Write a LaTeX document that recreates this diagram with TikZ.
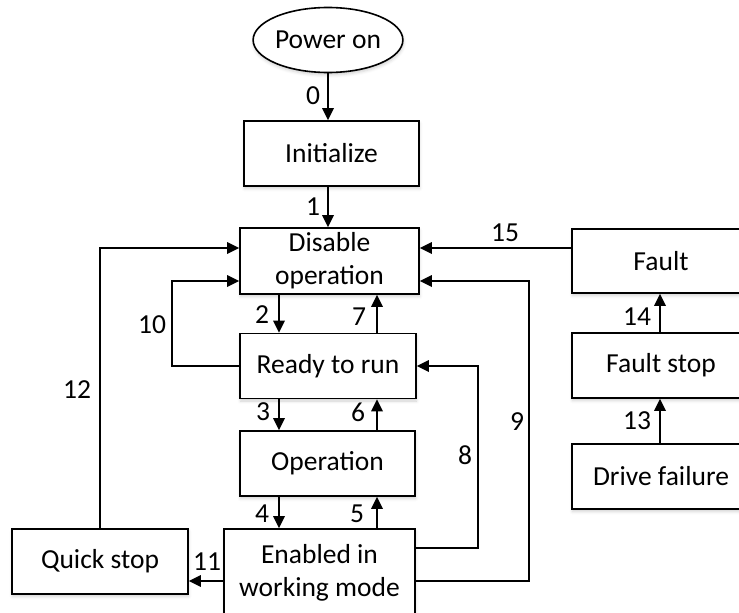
\documentclass[tikz,border=0pt]{standalone}
\usepackage{fontspec}
\setmainfont{Carlito}
\usetikzlibrary{arrows.meta,shadows.blur,shapes.geometric}
\newcommand\dfont{\fontsize{27.5}{33}\selectfont}
\begin{document}
\begin{tikzpicture}[x=1pt,y=-1pt,
  shad/.style={blur shadow={shadow xshift=0.5pt,shadow yshift=-2.5pt,shadow opacity=18,shadow blur radius=3pt}},
  box/.style={draw, line width=1.6pt, fill=white, rectangle, inner sep=0pt, align=center, font=\dfont, shad},
  oval/.style={draw, line width=1.6pt, fill=white, ellipse, inner sep=0pt, font=\dfont, shad},
  arr/.style={-{Triangle[length=12pt,width=11.5pt]}, line width=1.8pt},
  lbl/.style={font=\dfont, inner sep=0pt}]
\useasboundingbox (0,0) rectangle (739,613);
\clip (0,0) rectangle (739,613);

% states
\node[oval, minimum width=140pt, minimum height=65pt] (pwr) at (328,40) {Power on};
\node[box, minimum width=175pt, minimum height=65pt] (init) at (331.5,153.5) {Initialize};
\node[box, minimum width=179pt, minimum height=66pt] (dis) at (329.5,261) {Disable\\operation};
\node[box, minimum width=176pt, minimum height=65pt] (ready) at (328,366) {Ready to run};
\node[box, minimum width=175pt, minimum height=65pt] (op) at (327.5,463.5) {Operation};
\node[box, minimum width=191pt, minimum height=87pt] (en) at (319.5,572.5) {Enabled in\\working mode};
\node[box, minimum width=176pt, minimum height=65pt] (qs) at (100,561.5) {Quick stop};
\node[box, minimum width=178pt, minimum height=64pt] (fault) at (661,261) {Fault};
\node[box, minimum width=178pt, minimum height=65pt] (fstop) at (661,365.5) {Fault stop};
\node[box, minimum width=178pt, minimum height=65pt] (drive) at (661,476.5) {Drive failure};

% routing coordinates
\coordinate (xa) at (328,0);
\coordinate (xl) at (279,0);
\coordinate (xr) at (377,0);
\coordinate (xf) at (660,0);
\coordinate (yhi) at (0,248);
\coordinate (c10) at (172,281);
\coordinate (c8) at (478,366);
\coordinate (c9) at (529,281);
\coordinate (y8) at (0,548);
\coordinate (y9) at (0,581);

% transitions
\draw[arr] (pwr.south) -- (pwr.south |- init.north);
\draw[arr] (init.south -| xa) -- (dis.north -| xa);
\draw[arr] (dis.south -| xl) -- (ready.north -| xl);
\draw[arr] (ready.north -| xr) -- (dis.south -| xr);
\draw[arr] (ready.south -| xl) -- (op.north -| xl);
\draw[arr] (op.north -| xr) -- (ready.south -| xr);
\draw[arr] (op.south -| xl) -- (en.north -| xl);
\draw[arr] (en.north -| xr) -- (op.south -| xr);
\draw[arr] (ready.west) -| (c10) -- (dis.west |- c10);
\draw[arr] (qs.north) |- (dis.west |- yhi);
\draw[arr] (en.west |- y9) -- (qs.east |- y9);
\draw[arr] (en.east |- y8) -| (c8) -- (ready.east);
\draw[arr] (en.east |- y9) -| (c9) -- (dis.east |- c9);
\draw[arr] (fault.west |- yhi) -- (dis.east |- yhi);
\draw[arr] (fstop.north -| xf) -- (fault.south -| xf);
\draw[arr] (drive.north -| xf) -- (fstop.south -| xf);

% labels
\node[lbl] (l0) at (313,96) {0};
\node[lbl] (l1) at (313,207) {1};
\node[lbl] (l2) at (262,315) {2};
\node[lbl] (l7) at (359,317) {7};
\node[lbl] (l3) at (263,412) {3};
\node[lbl] (l6) at (358,412) {6};
\node[lbl] (l4) at (262,514) {4};
\node[lbl] (l5) at (357,514) {5};
\node[lbl] (l10) at (152,325) {10};
\node[lbl] (l12) at (77,390) {12};
\node[lbl] (l11) at (207,562) {11};
\node[lbl] (l8) at (465,455) {8};
\node[lbl] (l9) at (517,422) {9};
\node[lbl] (l15) at (505,233) {15};
\node[lbl] (l14) at (637,317) {14};
\node[lbl] (l13) at (637,421) {13};
\end{tikzpicture}
\end{document}
